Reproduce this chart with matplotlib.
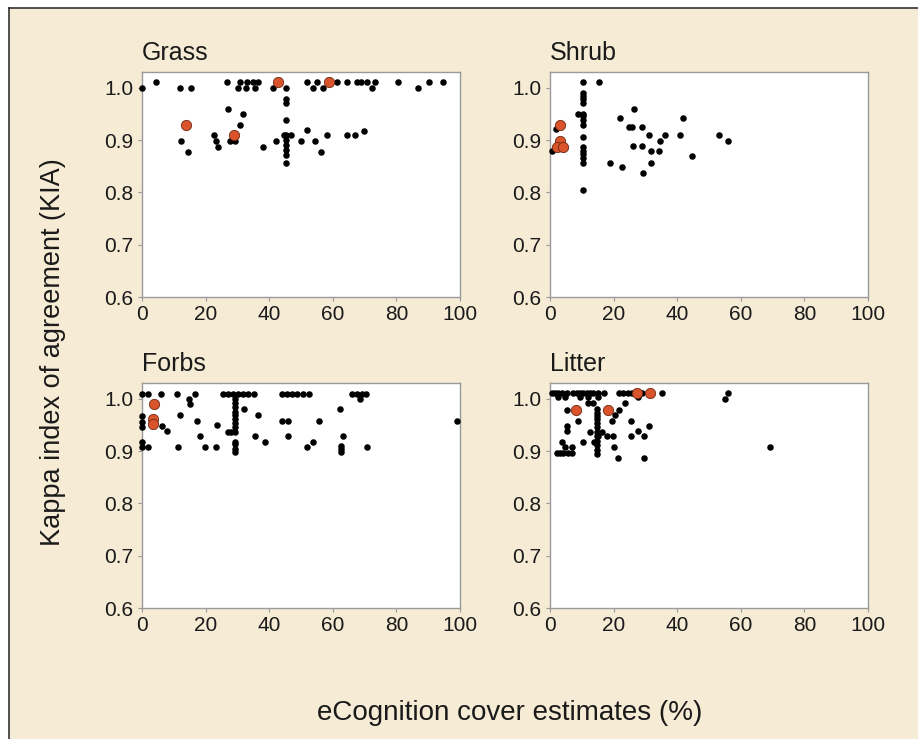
import matplotlib
matplotlib.use("Agg")
import matplotlib.pyplot as plt
from matplotlib.lines import Line2D
from matplotlib.patches import Rectangle

plt.rcParams['font.family'] = ['Liberation Sans', 'DejaVu Sans']

# ---- data ----
grass_x = [4.4, 26.8, 30.8, 32.9, 35.0, 36.5, 51.8, 54.9, 61.2, 64.4, 67.5, 69.0, 70.6, 73.3, 80.6, 90.3, 94.7,
           0.0, 12.0, 15.3, 30.3, 32.7, 35.5, 41.3, 45.2, 53.9, 56.8, 72.2, 86.9,
           45.2, 45.2, 45.2, 45.2, 45.2, 45.2, 45.2, 45.2, 45.2,
           27.1, 31.9, 30.8, 12.2, 14.6, 22.6, 23.3, 24.0, 27.6, 29.2, 38.0, 42.1, 44.6, 46.7,
           49.9, 51.8, 54.4, 56.2, 58.3, 64.4, 67.0, 69.8]
grass_y = [1.01, 1.01, 1.01, 1.01, 1.01, 1.01, 1.01, 1.01, 1.01, 1.01, 1.01, 1.01, 1.01, 1.01, 1.01, 1.01, 1.01,
           1.0, 1.0, 1.0, 1.0, 1.0, 1.0, 1.0, 1.0, 1.0, 1.0, 1.0, 1.0,
           0.978, 0.970, 0.938, 0.910, 0.900, 0.891, 0.881, 0.872, 0.857,
           0.959, 0.950, 0.929, 0.898, 0.877, 0.910, 0.898, 0.886, 0.898, 0.898, 0.887, 0.898, 0.910, 0.910,
           0.898, 0.919, 0.898, 0.877, 0.910, 0.910, 0.910, 0.918]
grass_red_x = [42.8, 58.9, 13.8, 29.0]
grass_red_y = [1.01, 1.01, 0.929, 0.910]

shrub_x = [10.5, 15.4, 10.5, 10.5, 10.5, 10.5, 10.5, 10.5, 10.5, 10.5, 10.5, 10.5, 10.5, 10.5, 10.5, 10.5, 10.5,
           8.9, 26.5, 22.0, 24.8, 25.7, 28.8, 41.9, 31.1, 36.2, 40.9, 53.1, 55.9, 34.6,
           26.2, 28.8, 31.8, 34.3, 44.6, 18.9, 31.8, 22.7, 29.1, 1.8, 0.5]
shrub_y = [1.01, 1.01, 0.989, 0.984, 0.978, 0.970, 0.950, 0.945, 0.938, 0.929, 0.906, 0.886, 0.879, 0.873, 0.865, 0.857, 0.804,
           0.950, 0.959, 0.943, 0.925, 0.925, 0.925, 0.943, 0.910, 0.910, 0.910, 0.910, 0.899, 0.899,
           0.889, 0.889, 0.879, 0.879, 0.869, 0.857, 0.857, 0.848, 0.837, 0.921, 0.879]
shrub_red_x = [3.1, 3.1, 2.1, 4.2]
shrub_red_y = [0.929, 0.899, 0.886, 0.886]

forbs_x = [0.0, 2.0, 5.9, 11.1, 16.7, 25.6, 27.1, 28.7, 30.3, 31.8, 33.4, 35.2, 43.9, 45.5, 47.1, 48.7, 50.7, 52.6,
           65.9, 67.5, 69.1, 70.4,
           14.9, 15.1, 68.6,
           29.2, 29.2, 29.2, 29.2, 29.2, 29.2, 29.2, 29.2, 29.2, 27.1, 27.9,
           32.1, 36.6, 62.3, 11.9, 17.4, 23.7, 43.9, 46.0, 55.8, 99.0,
           0.0, 0.0, 0.0, 6.2, 7.8, 18.2, 35.5, 46.0, 63.3, 38.7, 53.9, 51.8,
           0.0, 2.0, 11.4, 19.8, 23.3, 29.2, 29.2, 29.2, 29.2, 62.6, 62.6, 62.6, 70.9, 0.0]
forbs_y = [1.009, 1.009, 1.009, 1.009, 1.009, 1.009, 1.009, 1.009, 1.009, 1.009, 1.009, 1.009, 1.009, 1.009, 1.009,
           1.009, 1.009, 1.009, 1.009, 1.009, 1.009, 1.009,
           0.999, 0.990, 0.999,
           0.999, 0.991, 0.984, 0.975, 0.969, 0.961, 0.953, 0.945, 0.937, 0.937, 0.937,
           0.980, 0.969, 0.980, 0.969, 0.958, 0.950, 0.958, 0.958, 0.958, 0.958,
           0.966, 0.956, 0.946, 0.948, 0.939, 0.929, 0.929, 0.929, 0.929, 0.918, 0.918, 0.907,
           0.907, 0.907, 0.907, 0.907, 0.907, 0.918, 0.914, 0.904, 0.898, 0.909, 0.904, 0.898, 0.907, 0.918]
forbs_red_x = [3.8, 3.6, 3.6]
forbs_red_y = [0.990, 0.961, 0.952]

litter_x = [0.5, 1.6, 2.6, 3.7, 5.3, 7.3, 8.4, 9.4, 10.5, 11.5, 12.6, 13.6, 15.2, 17.1, 21.7, 23.1, 24.6, 25.9,
            29.0, 35.3,
            2.6, 4.7, 9.4, 12.0, 15.2, 27.8, 55.9, 55.0,
            12.0, 13.6, 23.6, 5.2, 21.7, 20.4,
            14.7, 14.7, 14.7, 14.7, 14.7, 14.7, 14.7, 14.7, 14.7, 14.7, 14.7, 14.7,
            8.9, 19.4, 25.5, 5.2, 5.2, 12.6, 16.3, 27.8, 31.1,
            15.2, 17.8, 19.9, 25.5, 29.7, 3.7, 10.5, 13.9, 4.7, 6.8, 20.2, 69.2,
            2.1, 3.1, 4.2, 5.8, 6.8, 21.3, 29.7]
litter_y = [1.01, 1.01, 1.01, 1.01, 1.01, 1.01, 1.01, 1.01, 1.01, 1.01, 1.01, 1.01, 1.01, 1.01, 1.01, 1.01, 1.01, 1.01,
            1.01, 1.01,
            1.003, 1.003, 1.003, 1.003, 1.003, 1.003, 1.011, 1.0,
            0.991, 0.991, 0.991, 0.978, 0.978, 0.969,
            0.980, 0.973, 0.967, 0.961, 0.953, 0.945, 0.937, 0.929, 0.920, 0.911, 0.902, 0.895,
            0.958, 0.958, 0.958, 0.948, 0.939, 0.937, 0.937, 0.939, 0.948,
            0.929, 0.929, 0.929, 0.929, 0.929, 0.918, 0.918, 0.918, 0.907, 0.907, 0.907, 0.907,
            0.897, 0.897, 0.897, 0.897, 0.897, 0.886, 0.886]
litter_red_x = [8.1, 18.1, 27.3, 31.4]
litter_red_y = [0.978, 0.978, 1.01, 1.01]

panels = [("Grass", grass_x, grass_y, grass_red_x, grass_red_y),
          ("Shrub", shrub_x, shrub_y, shrub_red_x, shrub_red_y),
          ("Forbs", forbs_x, forbs_y, forbs_red_x, forbs_red_y),
          ("Litter", litter_x, litter_y, litter_red_x, litter_red_y)]

x_ticks = [0, 20, 40, 60, 80, 100]
y_ticks = [0.6, 0.7, 0.8, 0.9, 1.0]

bg = "#f6ebd5"
W, H = 918, 739
fig = plt.figure(figsize=(W / 100, H / 100), dpi=100, facecolor="white")

# cream panel with a thin dark frame on the left and top
fig.add_artist(Rectangle((9 / W, 0), 1, 1 - 8 / H, transform=fig.transFigure,
                         facecolor=bg, edgecolor="none", zorder=-5))
fig.add_artist(Line2D([9 / W, 9 / W], [0, 1 - 8 / H], transform=fig.transFigure, color="#333333", lw=1.2))
fig.add_artist(Line2D([9 / W, 1], [1 - 8 / H, 1 - 8 / H], transform=fig.transFigure, color="#333333", lw=1.2))

lefts = [142, 550]
tops = [72, 383]
aw, ah = 318, 225

for i, (name, xs, ys, rx, ry) in enumerate(panels):
    l = lefts[i % 2]
    t = tops[i // 2]
    ax = fig.add_axes([l / W, 1 - (t + ah) / H, aw / W, ah / H])
    ax.set_facecolor("white")
    ax.scatter(xs, ys, s=22, color="black", zorder=3, clip_on=False, linewidths=0)
    ax.scatter(rx, ry, s=55, color="#d9532b", edgecolors="#6b2a12", linewidths=0.6, zorder=4, clip_on=False)
    ax.set_xlim(0, 100)
    ax.set_ylim(0.6, 1.03)
    ax.set_xticks(x_ticks)
    ax.set_yticks(y_ticks)
    ax.set_yticklabels(["%.1f" % v for v in y_ticks])
    for sp in ax.spines.values():
        sp.set_color("#9a9a9a")
        sp.set_linewidth(1.0)
    ax.tick_params(length=3, color="#9a9a9a", labelsize=15, pad=3, labelcolor="#1a1a1a")
    ax.text(0.0, 1.03, name, transform=ax.transAxes, fontsize=18,
            color="#1a1a1a", ha="left", va="bottom")

fig.text(53 / W, 1 - 352 / H, "Kappa index of agreement (KIA)", rotation=90, fontsize=19.5,
         ha="center", va="center", color="#1a1a1a")
fig.text(510 / W, 1 - 713 / H, "eCognition cover estimates (%)", fontsize=20,
         ha="center", va="center", color="#1a1a1a")

fig.savefig("out.png", dpi=100, facecolor="white")
